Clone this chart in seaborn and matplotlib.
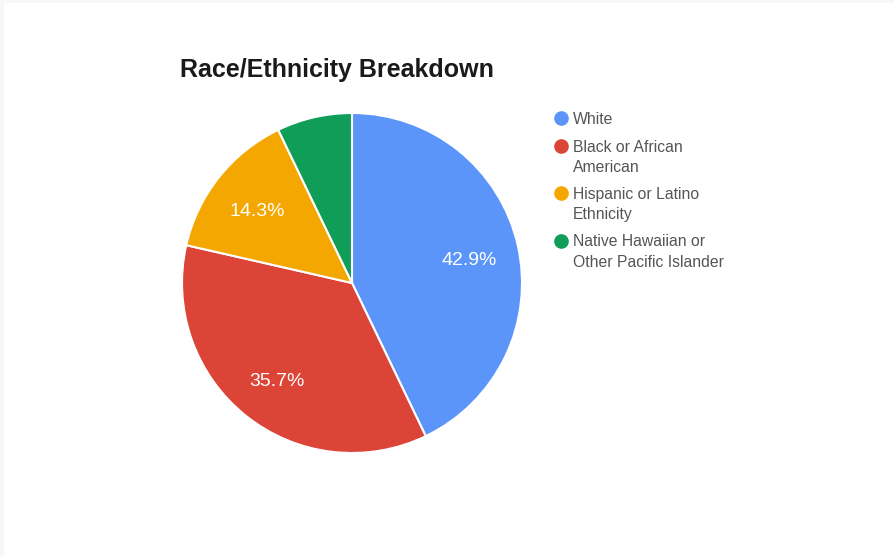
import matplotlib
matplotlib.use('Agg')
import matplotlib.pyplot as plt
import seaborn as sns
from matplotlib.lines import Line2D
from matplotlib.patches import Rectangle

# data
categories = ['White', 'Black or African American', 'Hispanic or Latino Ethnicity',
              'Native Hawaiian or Other Pacific Islander']
legend_labels = ['White', 'Black or African\nAmerican', 'Hispanic or Latino\nEthnicity',
                 'Native Hawaiian or\nOther Pacific Islander']
counts = [6, 5, 2, 1]
colors = ['#5B95F9', '#DB4437', '#F4A700', '#0F9D58']

sns.set_theme(style='white')
plt.rcParams['font.family'] = ['Liberation Sans', 'DejaVu Sans']

W, H = 895, 556
fig = plt.figure(figsize=(W / 100, H / 100), dpi=100)
fig.patch.set_facecolor('#f7f7f7')
fig.add_artist(Rectangle((4 / W, 0), 1, (H - 3) / H, transform=fig.transFigure,
                         facecolor='white', edgecolor='none', zorder=0))

# pie centre (352, 283) px, radius 170 px
cx, cy, r = 352, 283, 170
ax = fig.add_axes([(cx - r) / W, (H - cy - r) / H, 2 * r / W, 2 * r / H])
ax.set_facecolor('none')

wedges, texts, autotexts = ax.pie(
    counts, colors=colors, startangle=90, counterclock=False, radius=1,
    autopct=lambda p: f'{p:.1f}%' if p > 10 else '', pctdistance=0.71,
    wedgeprops=dict(edgecolor='white', linewidth=1.5),
    textprops=dict(color='white', fontsize=14))
# google draws the labels a little lower than the wedge centroid
for t in autotexts:
    x, y = t.get_position()
    t.set_position((x, y - 4 / r))
ax.set_xlim(-1, 1)
ax.set_ylim(-1, 1)
ax.set_aspect('equal')

fig.text(180 / W, 1 - 70 / H, 'Race/Ethnicity Breakdown', fontsize=18,
         fontweight='bold', color='#1a1a1a', ha='left', va='center')

# legend drawn by hand so the dot lines up with the first text line
ys = [118, 146, 193, 241]
for lab, col, y in zip(legend_labels, colors, ys):
    fig.add_artist(Line2D([561 / W], [1 - y / H], marker='o', markersize=9.5,
                          color=col, transform=fig.transFigure))
    fig.text(573 / W, 1 - (y - 6.5) / H, lab, fontsize=11.3, color='#555555',
             ha='left', va='top', linespacing=1.45)

fig.savefig('out.png', dpi=100)
